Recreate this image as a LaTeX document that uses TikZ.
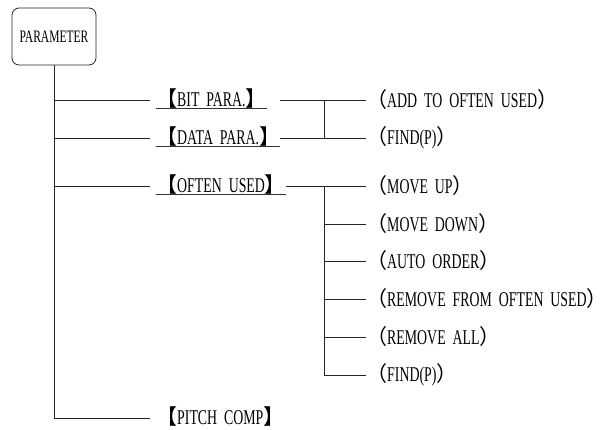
\documentclass[tikz,border=0pt]{standalone}
\usepackage{fontspec}
\setmainfont[FakeStretch=0.66, WordSpace=2]{Liberation Serif}
\newfontfamily\cjk{Noto Sans CJK SC}
\usetikzlibrary{positioning, calc}

\newcommand{\menubr}[1]{{\cjk 【}#1{\cjk 】}}
\newcommand{\itembr}[1]{{\cjk （}#1{\cjk ）}}

\begin{document}
\begin{tikzpicture}[
        x=1pt, y=-1pt,
        root/.style={rectangle, draw=black!85, line width=0.8pt, rounded corners=7pt, minimum width=84pt, minimum height=57pt, align=center, font=\fontsize{17.5}{20}\selectfont},
        menu/.style={anchor=west, inner sep=0pt, text height=15pt, text depth=2pt, font=\fontsize{21}{24}\selectfont},
        item/.style={anchor=west, inner sep=0pt, font=\fontsize{21}{24}\selectfont},
        line/.style={line width=0.8pt, draw=black!85},
        uline/.style={line width=0.9pt, draw=black!80}
    ]
        \useasboundingbox (0,0) rectangle (612,430);

        \node[root] (param) at (54,36.5) {PARAMETER};

        \node[menu] (bit) at (156,100) {\menubr{BIT PARA.}};
        \node[menu] (data) at (156,138) {\menubr{DATA PARA.}};
        \node[menu] (often) at (156,186) {\menubr{OFTEN USED}};
        \node[menu] (pitch) at (156,418) {\menubr{PITCH COMP}};

        \node[item] (add) at (366,100) {\itembr{ADD TO OFTEN USED}};
        \node[item] (find1) at (366,138) {\itembr{FIND(P)}};
        \node[item] (up) at (366,186) {\itembr{MOVE UP}};
        \node[item] (down) at (366,224) {\itembr{MOVE DOWN}};
        \node[item] (auto) at (366,261) {\itembr{AUTO ORDER}};
        \node[item] (remfrom) at (366,299) {\itembr{REMOVE FROM OFTEN USED}};
        \node[item] (remall) at (366,337) {\itembr{REMOVE ALL}};
        \node[item] (find2) at (366,375) {\itembr{FIND(P)}};

        \coordinate (jct) at (324,0);

        % underlines of the menu entries
        \draw[uline] (bit.south west) -- (bit.south east);
        \draw[uline] (data.south west) -- (data.south east);
        \draw[uline] (often.south west) -- (often.south east);

        % trunk
        \draw[line] (param.south) |- ([xshift=-6pt]pitch.west);
        \draw[line, shorten >=6pt] (param.south |- bit.west) -- (bit.west);
        \draw[line, shorten >=6pt] (param.south |- data.west) -- (data.west);
        \draw[line, shorten >=6pt] (param.south |- often.west) -- (often.west);

        % bit / data sub-items
        \draw[line] (bit.east -| data.east) -- (add.west);
        \draw[line] (data.east) -- (find1.west);
        \draw[line] (jct |- add.west) -- (jct |- find1.west);

        % often used sub-items
        \draw[line] (often.east) -- (up.west);
        \draw[line] (jct |- up.west) -- (jct |- find2.west);
        \draw[line] (jct |- down.west) -- (down.west);
        \draw[line] (jct |- auto.west) -- (auto.west);
        \draw[line] (jct |- remfrom.west) -- (remfrom.west);
        \draw[line] (jct |- remall.west) -- (remall.west);
        \draw[line] (jct |- find2.west) -- (find2.west);
    \end{tikzpicture}
\end{document}
